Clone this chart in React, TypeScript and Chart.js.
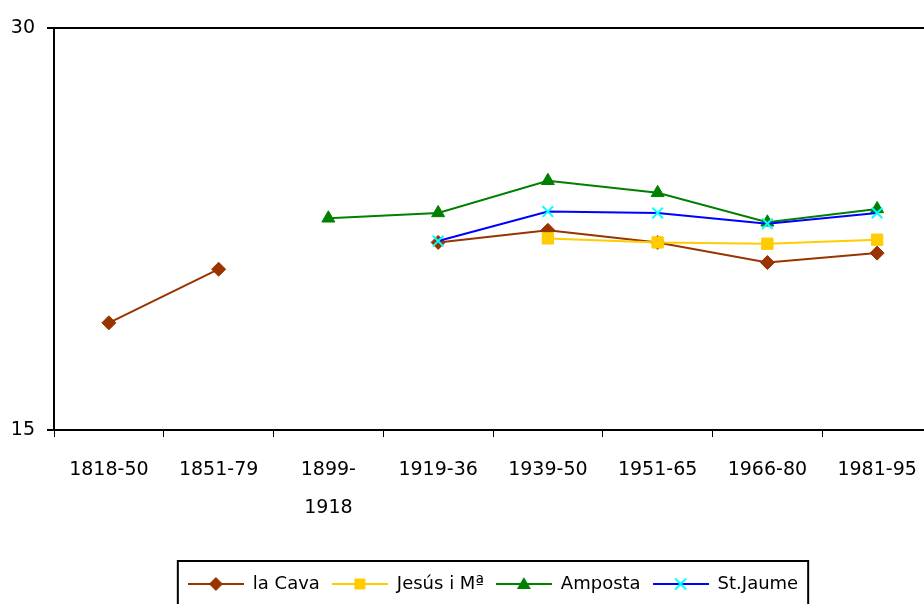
import React, { useEffect, useRef } from "react";
import { Chart, registerables } from "chart.js";

Chart.register(...registerables);

const categories: (string | string[])[] = [
  "1818-50",
  "1851-79",
  ["1899-", "1918"],
  "1919-36",
  "1939-50",
  "1951-65",
  "1966-80",
  "1981-95",
];

const laCava = [19.0, 21.0, null, 22.0, 22.45, 22.0, 21.25, 21.6];
const jesusMa = [null, null, null, null, 22.15, 22.0, 21.95, 22.1];
const amposta = [null, null, 22.9, 23.1, 24.3, 23.85, 22.75, 23.25];
const stJaume = [null, null, null, 22.05, 23.15, 23.1, 22.7, 23.1];

const seriesNames = ["la Cava", "Jesús i Mª", "Amposta", "St.Jaume"];
const yTicks = [15, 30];

const FONT = "'DejaVu Sans', sans-serif";

function drawMarker(ctx: CanvasRenderingContext2D, kind: string, x: number, y: number, fill: string) {
  ctx.fillStyle = fill;
  ctx.strokeStyle = fill;
  ctx.beginPath();
  if (kind === "diamond") {
    ctx.moveTo(x, y - 7);
    ctx.lineTo(x + 7, y);
    ctx.lineTo(x, y + 7);
    ctx.lineTo(x - 7, y);
    ctx.closePath();
    ctx.fill();
  } else if (kind === "square") {
    ctx.rect(x - 5.5, y - 5.5, 11, 11);
    ctx.fill();
  } else if (kind === "triangle") {
    ctx.moveTo(x, y - 7);
    ctx.lineTo(x + 7, y + 5);
    ctx.lineTo(x - 7, y + 5);
    ctx.closePath();
    ctx.fill();
  } else {
    ctx.lineWidth = 2;
    ctx.moveTo(x - 5.5, y - 5.5);
    ctx.lineTo(x + 5.5, y + 5.5);
    ctx.moveTo(x + 5.5, y - 5.5);
    ctx.lineTo(x - 5.5, y + 5.5);
    ctx.stroke();
  }
}

function legendImage(line: string, marker: string, kind: string) {
  const c = document.createElement("canvas");
  c.width = 56;
  c.height = 18;
  const ctx = c.getContext("2d")!;
  ctx.strokeStyle = line;
  ctx.lineWidth = 2;
  ctx.beginPath();
  ctx.moveTo(0, 9);
  ctx.lineTo(56, 9);
  ctx.stroke();
  drawMarker(ctx, kind, 28, 9, marker);
  return c;
}

const frame = {
  id: "frame",
  afterDraw(chart: any) {
    const ctx = chart.ctx;
    const a = chart.chartArea;
    ctx.save();
    ctx.strokeStyle = "#000";
    ctx.lineWidth = 2;
    ctx.beginPath();
    ctx.moveTo(a.left, a.top);
    ctx.lineTo(a.right, a.top);
    ctx.lineTo(a.right, a.bottom);
    ctx.stroke();
    const hb = chart.legend && chart.legend.legendHitBoxes;
    if (hb && hb.length) {
      const first = hb[0];
      const last = hb[hb.length - 1];
      const cy = first.top + first.height / 2;
      ctx.lineWidth = 2;
      ctx.strokeRect(first.left - 10, cy - 23, last.left + last.width - first.left + 20, 47);
    }
    ctx.restore();
  },
};

export default function App() {
  const ref = useRef<HTMLCanvasElement | null>(null);
  useEffect(() => {
    if (!ref.current) return;
    const colors = [
      { line: "#993300", marker: "#993300", kind: "diamond", style: "rectRot", r: 7 },
      { line: "#FFCC00", marker: "#FFCC00", kind: "square", style: "rect", r: 8 },
      { line: "#008000", marker: "#008000", kind: "triangle", style: "triangle", r: 7.5 },
      { line: "#0000FF", marker: "#00FFFF", kind: "x", style: "crossRot", r: 7.5 },
    ];
    const values = [laCava, jesusMa, amposta, stJaume];
    const images = colors.map((c) => legendImage(c.line, c.marker, c.kind));
    const chart = new Chart(ref.current, {
      type: "line",
      data: {
        labels: categories,
        datasets: values.map((v, i) => ({
          label: seriesNames[i],
          data: v,
          borderColor: colors[i].line,
          backgroundColor: colors[i].marker,
          pointBackgroundColor: colors[i].marker,
          pointBorderColor: colors[i].marker,
          pointStyle: colors[i].style,
          pointRadius: colors[i].r,
          pointBorderWidth: colors[i].kind === "x" ? 2 : 1,
          borderWidth: 2,
          spanGaps: false,
          tension: 0,
          order: 4 - i,
        })),
      },
      options: {
        responsive: false,
        animation: false,
        devicePixelRatio: 1,
        layout: { padding: { top: 28, right: 50, bottom: 17, left: 0 } },
        plugins: {
          tooltip: { enabled: false },
          legend: {
            position: "bottom",
            fullSize: false,
            labels: {
              usePointStyle: true,
              pointStyleWidth: 56,
              padding: 12,
              color: "#000",
              font: { family: FONT, size: 18 },
              generateLabels: () =>
                seriesNames.map((n, i) => ({
                  text: n,
                  pointStyle: images[i],
                  fillStyle: colors[i].marker,
                  strokeStyle: colors[i].line,
                  lineWidth: 0,
                  hidden: false,
                  datasetIndex: i,
                  fontColor: "#000",
                })),
            },
          },
        },
        scales: {
          x: {
            type: "category",
            offset: true,
            border: { display: true, color: "#000", width: 2 },
            grid: {
              offset: true,
              drawOnChartArea: false,
              drawTicks: true,
              tickLength: 7,
              color: "#000",
              lineWidth: 1,
            },
            ticks: {
              color: "#000",
              padding: 14,
              maxRotation: 0,
              autoSkip: false,
              font: { family: FONT, size: 19, lineHeight: 2.0 },
            },
            afterFit: (s: any) => {
              s.height = 133;
            },
          },
          y: {
            min: 15,
            max: 30,
            border: { display: true, color: "#000", width: 2 },
            grid: {
              drawOnChartArea: false,
              drawTicks: true,
              tickLength: 7,
              color: "#000",
              lineWidth: 2,
            },
            afterBuildTicks: (s: any) => {
              s.ticks = yTicks.map((v) => ({ value: v }));
            },
            ticks: {
              color: "#000",
              padding: 12,
              font: { family: FONT, size: 19 },
            },
            afterFit: (s: any) => {
              s.width = 54;
            },
          },
        },
      },
      plugins: [frame],
    });
    return () => chart.destroy();
  }, []);
  return (
    <div
      style={{
        position: "fixed",
        left: 0,
        top: 0,
        width: 924,
        height: 604,
        overflow: "hidden",
        background: "#fff",
      }}
    >
      <canvas ref={ref} width={982} height={620} style={{ width: 982, height: 620, display: "block" }} />
    </div>
  );
}
